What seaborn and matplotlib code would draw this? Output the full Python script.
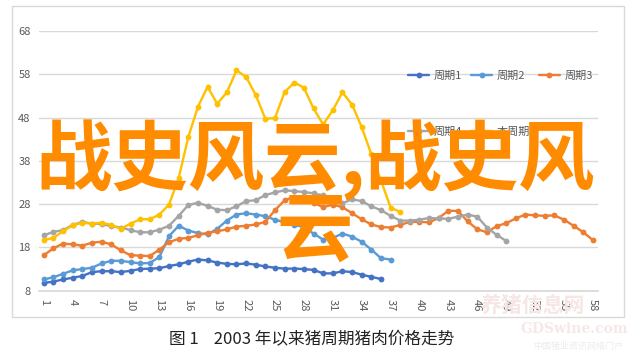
import pandas as pd
import numpy as np
import seaborn as sns
import matplotlib.pyplot as plt
from matplotlib.patches import Rectangle

# Series values (index 1..n)
cycle1 = [9.8, 10.1, 10.6, 11.0, 11.4, 12.3, 12.5, 12.5, 12.3, 12.6, 13.0, 13.1, 13.2, 13.7,
          14.1, 14.7, 15.2, 15.0, 14.5, 14.2, 14.1, 14.3, 14.0, 13.6, 13.3, 13.1, 13.1, 13.0,
          12.8, 12.0, 12.0, 12.5, 12.3, 11.7, 11.2, 10.7]
cycle2 = [10.6, 11.1, 11.9, 12.7, 13.0, 13.3, 14.3, 14.9, 14.9, 14.6, 14.3, 14.4, 15.8, 20.6,
          23.0, 21.9, 21.3, 21.0, 22.3, 24.2, 25.6, 25.9, 25.6, 25.2, 24.4, 23.8, 23.2, 22.7,
          21.2, 19.8, 20.2, 21.2, 20.5, 19.3, 17.5, 15.5, 15.2]
cycle3 = [16.2, 17.8, 18.9, 18.7, 18.4, 19.1, 19.3, 18.7, 17.3, 16.2, 16.1, 16.0, 17.5, 19.2,
          20.0, 20.2, 20.8, 21.4, 21.7, 22.2, 22.8, 23.0, 23.3, 23.9, 26.6, 28.9, 29.7, 29.6,
          28.3, 27.3, 27.9, 27.3, 25.9, 24.5, 23.3, 22.7, 22.6, 23.2, 23.9, 23.9, 23.8, 24.8,
          26.5, 26.4, 24.0, 22.2, 21.5, 22.9, 23.6, 24.7, 25.6, 25.4, 25.3, 25.4, 24.4, 23.0,
          21.5, 19.7]
cycle4 = [20.8, 21.6, 22.0, 23.2, 23.9, 23.5, 23.4, 22.9, 22.6, 22.0, 21.5, 21.5, 22.1, 23.0,
          25.3, 27.8, 28.3, 27.6, 26.7, 26.6, 27.5, 28.7, 28.9, 30.1, 30.7, 31.2, 31.0, 30.8,
          30.5, 30.0, 28.8, 28.2, 29.1, 28.7, 27.5, 26.6, 25.3, 24.2, 24.2, 24.4, 24.8, 24.7,
          24.6, 25.1, 25.6, 25.1, 22.6, 20.9, 19.5]
current = [19.7, 20.2, 21.8, 23.1, 23.7, 23.5, 23.7, 23.2, 22.3, 23.5, 24.5, 24.5, 25.6, 27.9,
           34.0, 43.5, 50.5, 55.1, 51.2, 53.8, 58.9, 57.4, 53.2, 47.7, 47.9, 53.9, 56.1, 54.9,
           50.1, 46.4, 49.7, 53.8, 51.0, 45.8, 39.5, 33.5, 27.2, 26.2]

names = ['周期1', '周期2', '周期3', '周期4', '本周期']
colors = ['#4472C4', '#5B9BD5', '#ED7D31', '#A5A5A5', '#FFC000']
x_ticks = list(range(1, 59, 3))
y_ticks = list(range(8, 69, 10))

rows = []
for name, vals in zip(names, [cycle1, cycle2, cycle3, cycle4, current]):
    for i, v in enumerate(vals):
        rows.append({'period': i + 1, 'price': v, 'series': name})
df = pd.DataFrame(rows)

sns.set_theme(style='white')
plt.rcParams['font.family'] = ['Noto Sans CJK SC', 'DejaVu Sans']

fig = plt.figure(figsize=(6.34, 3.58), dpi=100)
ax = fig.add_axes([39 / 634, 1 - 290.7 / 358, (597.7 - 39) / 634, (290.7 - 31) / 358])

sns.lineplot(data=df, x='period', y='price', hue='series', hue_order=names,
             palette=dict(zip(names, colors)), marker='o', markersize=4.2,
             markeredgewidth=0, linewidth=1.7, ax=ax)

ax.set_xlim(0.5, 58.5)
ax.set_ylim(8, 68)
ax.set_xticks(x_ticks)
ax.set_yticks(y_ticks)
ax.set_xticklabels([str(t) for t in x_ticks], rotation=-90, fontsize=8, color='#595959')
ax.set_yticklabels([str(t) for t in y_ticks], fontsize=8, color='#595959')
ax.tick_params(axis='both', length=0, pad=6)
ax.set_xlabel('')
ax.set_ylabel('')
ax.grid(axis='y', color='#d9d9d9', linewidth=1)
ax.set_axisbelow(True)
for s in ['left', 'right', 'top']:
    ax.spines[s].set_visible(False)
ax.spines['bottom'].set_color('#d9d9d9')

# legend: row-wise order for 3 columns
handles, labels = ax.get_legend_handles_labels()
lookup = dict(zip(labels, handles))
order = ['周期1', '周期4', '周期2', '本周期', '周期3']
ax.legend([lookup[k] for k in order], order, ncol=3, frameon=False, fontsize=8,
          loc='upper left', bbox_to_anchor=(408 / 634, 1 - 71 / 358),
          bbox_transform=fig.transFigure, borderpad=0, borderaxespad=0,
          handlelength=1.9, handletextpad=0.4, columnspacing=0.8, labelspacing=4.1,
          labelcolor='#595959')

# chart frame
fig.patches.append(Rectangle((12 / 634, 1 - 317 / 358), 612 / 634, 311 / 358,
                             transform=fig.transFigure, fill=False,
                             edgecolor='#d9d9d9', linewidth=1))

# caption
fig.text(312 / 634, 1 - 340 / 358, '图 1    2003 年以来猪周期猪肉价格走势',
         ha='center', va='center', fontsize=12, color='#222222')

# faint site watermark
fig.text(533 / 634, 1 - 305 / 358, '养猪信息网', ha='center', va='center',
         fontsize=15, color='#f6e6e6', fontweight='bold')
fig.text(574 / 634, 1 - 329 / 358, 'GDSwine.com', ha='center', va='center',
         fontsize=10, color='#f6e8e8', family='DejaVu Serif', fontweight='bold')
fig.text(578 / 634, 1 - 346 / 358, '中国猪业资讯网络门户', ha='center', va='center',
         fontsize=6.5, color='#ececec')

# big overlay text
fig.text(315 / 634, 1 - 195 / 358, '战史风云,战史风\n云', ha='center', va='center',
         multialignment='center', fontsize=55, color='#FF8C00', fontweight='bold',
         linespacing=0.86)

plt.savefig('out.png', dpi=100)
plt.close()
